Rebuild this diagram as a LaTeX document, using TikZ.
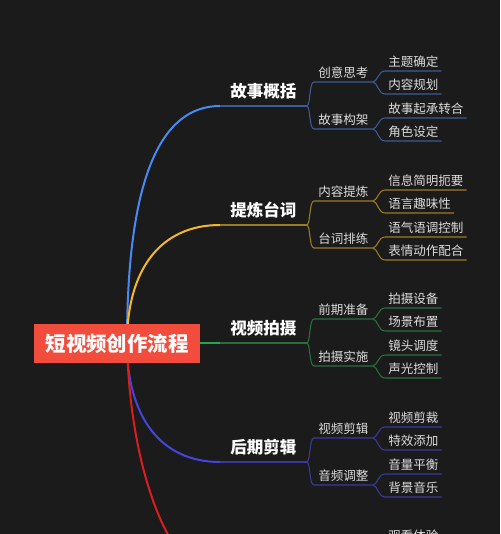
\documentclass[tikz,border=0pt]{standalone}
\usepackage{fontspec}
\newfontfamily\cjk{Noto Sans CJK SC}
\usetikzlibrary{positioning}

\definecolor{bgdark}{HTML}{1B1B1B}
\definecolor{rootred}{HTML}{F24C3D}
\definecolor{txtgray}{HTML}{DCDCDC}
% branch colours (curve) and their thinner sub-lines
\definecolor{br1}{HTML}{4A8AF0}
\definecolor{br2}{HTML}{F5B82A}
\definecolor{br3}{HTML}{22A84A}
\definecolor{br4}{HTML}{4545DD}
\definecolor{br5}{HTML}{D81E1E}
\definecolor{ln1}{HTML}{3A5C98}
\definecolor{ln2}{HTML}{9A7C26}
\definecolor{ln3}{HTML}{26703A}
\definecolor{ln4}{HTML}{3A3A9C}

\begin{document}
\begin{tikzpicture}[
    x=0.75pt, y=-0.75pt,
    rootbox/.style={fill=rootred, text=white, inner sep=0pt, minimum width=124.5pt, minimum height=29.25pt,
        font=\cjk\bfseries\fontsize{15.3}{18}\selectfont},
    mainlbl/.style={anchor=south west, inner xsep=7.5pt, inner ysep=6pt, text depth=0pt, text=white,
        font=\cjk\bfseries\fontsize{12.4}{14}\selectfont},
    sublbl/.style={anchor=south west, inner xsep=3pt, inner ysep=3.2pt, text depth=0pt, text=txtgray,
        font=\cjk\fontsize{9.4}{11}\selectfont},
    leaflbl/.style={sublbl, inner xsep=2.25pt},
    branch/.style={line width=1.5pt, line cap=round},
    subline/.style={line width=0.8pt}
]
\useasboundingbox (0,0) rectangle (500,534);
\fill[bgdark] (0,0) rectangle (500,534);
\clip (0,0) rectangle (500,534);

\coordinate (hub) at (127,343);

% four full branches
\foreach \g/\Y/\cax/\cay/\cbx/\main/\sa/\sb/\ta/\tb/\tc/\td in {
    1/106/127/180/160/故事概括/创意思考/故事构架/主题确定/内容规划/故事起承转合/角色设定,
    2/225/127/270/160/提炼台词/内容提炼/台词排练/信息简明扼要/语言趣味性/语气语调控制/表情动作配合,
    3/343/127/343/160/视频拍摄/前期准备/拍摄实施/拍摄设备/场景布置/镜头调度/声光控制,
    4/462/127/416/160/后期剪辑/视频剪辑/音频调整/视频剪裁/特效添加/音量平衡/背景音乐}{
  \node[mainlbl] (m\g) at (220,\Y) {\main};
  \node[sublbl] (s\g-1) at (314,\Y-24) {\sa};
  \node[sublbl] (s\g-2) at (314,\Y+23) {\sb};
  \node[leaflbl] (t\g-1) at (385,\Y-35) {\ta};
  \node[leaflbl] (t\g-2) at (385,\Y-12) {\tb};
  \node[leaflbl] (t\g-3) at (385,\Y+12) {\tc};
  \node[leaflbl] (t\g-4) at (385,\Y+35) {\td};
  % curve from the centre
  \draw[branch, draw=br\g] (hub) .. controls (\cax,\cay) and (\cbx,\Y) .. (m\g.south west);
  \draw[subline, draw=ln\g] (m\g.south west) -- (m\g.south east);
  % brackets and underlines
  \foreach \s in {1,2}
    \draw[subline, draw=ln\g] (m\g.south east) .. controls +(4,0) and +(-5,0) .. (s\g-\s.south west)
        -- (s\g-\s.south east);
  \draw[subline, draw=ln\g] (s\g-1.south east) .. controls +(5,0) and +(-7,0) .. (t\g-1.south west) -- (t\g-1.south east);
  \draw[subline, draw=ln\g] (s\g-1.south east) .. controls +(5,0) and +(-7,0) .. (t\g-2.south west) -- (t\g-2.south east);
  \draw[subline, draw=ln\g] (s\g-2.south east) .. controls +(5,0) and +(-7,0) .. (t\g-3.south west) -- (t\g-3.south east);
  \draw[subline, draw=ln\g] (s\g-2.south east) .. controls +(5,0) and +(-7,0) .. (t\g-4.south west) -- (t\g-4.south east);
}

% fifth branch, mostly below the frame
\coordinate (m5) at (220,580);
\draw[branch, draw=br5] (hub) .. controls (130,480) and (175,580) .. (m5);
\node[leaflbl] (t5-1) at (385,545) {观看体验};

% centre topic on top of the curves
\node[rootbox] (root) at (117,343.5) {短视频创作流程};
\end{tikzpicture}
\end{document}
